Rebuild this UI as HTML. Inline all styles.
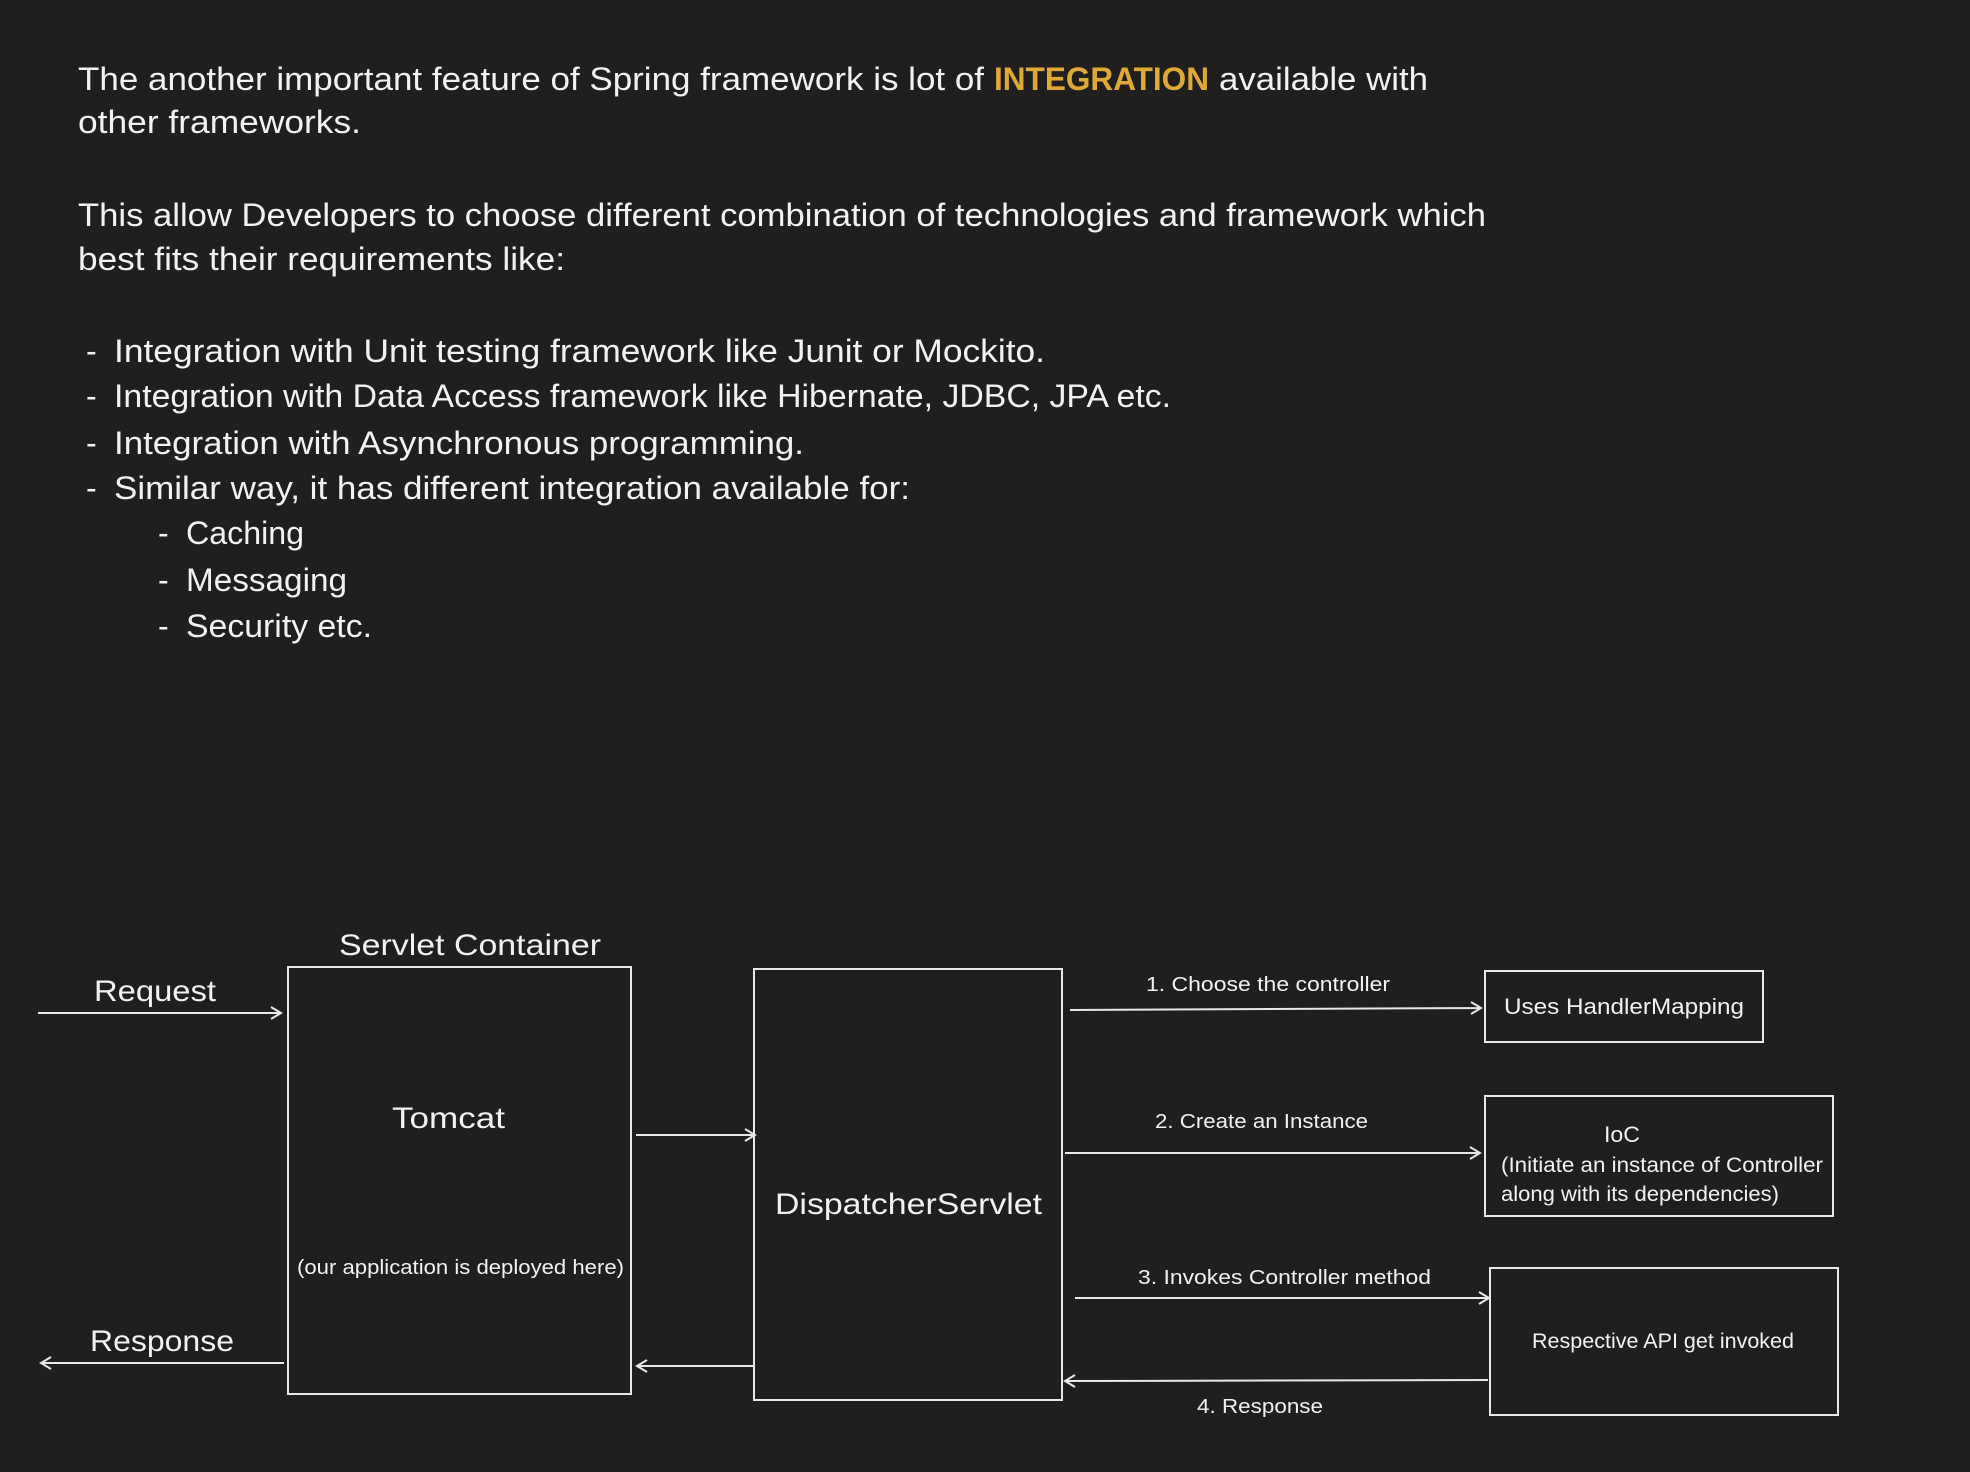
<!DOCTYPE html>
<html><head><meta charset="utf-8"><style>
html,body{margin:0;padding:0;background:#201f1e;}
svg{display:block}
text{font-family:"Liberation Sans",sans-serif;fill:#f2f2f2}
</style></head><body>
<svg width="1970" height="1472" viewBox="0 0 1970 1472" xmlns="http://www.w3.org/2000/svg">
<rect width="1970" height="1472" fill="#201f1e"/>
<g font-size="32">
<text x="78" y="90" textLength="906" lengthAdjust="spacingAndGlyphs">The another important feature of Spring framework is lot of</text>
<text x="994" y="90" textLength="215" lengthAdjust="spacingAndGlyphs" style="fill:#e0a935;font-weight:bold">INTEGRATION</text>
<text x="1219" y="90" textLength="209" lengthAdjust="spacingAndGlyphs">available with</text>
<text x="78" y="133" textLength="283" lengthAdjust="spacingAndGlyphs">other frameworks.</text>
<text x="78" y="226" textLength="1408" lengthAdjust="spacingAndGlyphs">This allow Developers to choose different combination of technologies and framework which</text>
<text x="78" y="270" textLength="487" lengthAdjust="spacingAndGlyphs">best fits their requirements like:</text>
<text x="86" y="362">-</text><text x="114" y="362" textLength="931" lengthAdjust="spacingAndGlyphs">Integration with Unit testing framework like Junit or Mockito.</text>
<text x="86" y="407">-</text><text x="114" y="407" textLength="1057" lengthAdjust="spacingAndGlyphs">Integration with Data Access framework like Hibernate, JDBC, JPA etc.</text>
<text x="86" y="454">-</text><text x="114" y="454" textLength="690" lengthAdjust="spacingAndGlyphs">Integration with Asynchronous programming.</text>
<text x="86" y="499">-</text><text x="114" y="499" textLength="796" lengthAdjust="spacingAndGlyphs">Similar way, it has different integration available for:</text>
<text x="158" y="544">-</text><text x="186" y="544" textLength="118" lengthAdjust="spacingAndGlyphs">Caching</text>
<text x="158" y="591">-</text><text x="186" y="591" textLength="161" lengthAdjust="spacingAndGlyphs">Messaging</text>
<text x="158" y="637">-</text><text x="186" y="637" textLength="186" lengthAdjust="spacingAndGlyphs">Security etc.</text>
</g>
<g fill="none" stroke="#e8e8e8" stroke-width="2">
<rect x="288" y="967" width="343" height="427"/>
<rect x="754" y="969" width="308" height="431"/>
<rect x="1485" y="971" width="278" height="71"/>
<rect x="1485" y="1096" width="348" height="120"/>
<rect x="1490" y="1268" width="348" height="147"/>
<path d="M38 1013H281M271 1007l10 6-10 6"/>
<path d="M284 1363H41M51 1357l-10 6 10 6"/>
<path d="M636 1135H755M745 1129l10 6-10 6"/>
<path d="M753 1366H637M647 1360l-10 6 10 6"/>
<path d="M1070 1010L1481 1008M1471 1002l10 6-10 6"/>
<path d="M1065 1153H1480M1470 1147l10 6-10 6"/>
<path d="M1075 1298H1489M1479 1292l10 6-10 6"/>
<path d="M1488 1380L1065 1381M1075 1375l-10 6 10 6"/>
</g>
<text x="339" y="955" font-size="30" textLength="262" lengthAdjust="spacingAndGlyphs">Servlet Container</text>
<text x="94" y="1001" font-size="30" textLength="122" lengthAdjust="spacingAndGlyphs">Request</text>
<text x="90" y="1351" font-size="30" textLength="144" lengthAdjust="spacingAndGlyphs">Response</text>
<text x="392" y="1128" font-size="30" textLength="113" lengthAdjust="spacingAndGlyphs">Tomcat</text>
<text x="297" y="1274" font-size="20" textLength="327" lengthAdjust="spacingAndGlyphs">(our application is deployed here)</text>
<text x="775" y="1214" font-size="30" textLength="267" lengthAdjust="spacingAndGlyphs">DispatcherServlet</text>
<text x="1146" y="991" font-size="20" textLength="244" lengthAdjust="spacingAndGlyphs">1.  Choose the controller</text>
<text x="1155" y="1128" font-size="20" textLength="213" lengthAdjust="spacingAndGlyphs">2.  Create an Instance</text>
<text x="1138" y="1284" font-size="20" textLength="293" lengthAdjust="spacingAndGlyphs">3.  Invokes Controller method</text>
<text x="1197" y="1413" font-size="20" textLength="126" lengthAdjust="spacingAndGlyphs">4.  Response</text>
<text x="1504" y="1014" font-size="22" textLength="240" lengthAdjust="spacingAndGlyphs">Uses HandlerMapping</text>
<text x="1604" y="1142" font-size="22" textLength="36" lengthAdjust="spacingAndGlyphs">IoC</text>
<text x="1501" y="1172" font-size="21" textLength="322" lengthAdjust="spacingAndGlyphs">(Initiate an instance of Controller</text>
<text x="1501" y="1201" font-size="21" textLength="278" lengthAdjust="spacingAndGlyphs">along with its dependencies)</text>
<text x="1532" y="1348" font-size="21" textLength="262" lengthAdjust="spacingAndGlyphs">Respective API get invoked</text>
</svg>
</body></html>
